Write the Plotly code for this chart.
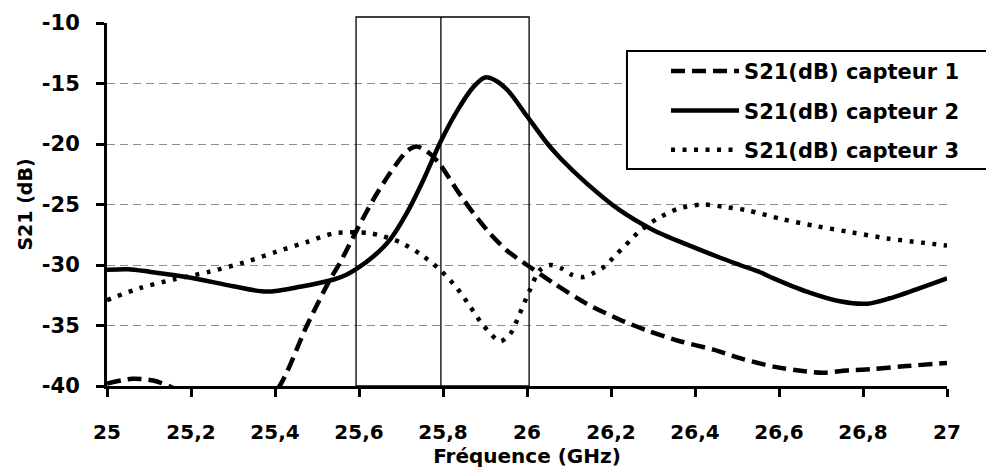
import plotly.graph_objects as go

# ---------------- data ----------------
freq_c1 = [25.0, 25.06, 25.11, 25.16, 25.22, 25.30, 25.36, 25.41, 25.476, 25.531, 25.555,
           25.595, 25.634, 25.674, 25.714, 25.737, 25.769, 25.793, 25.833, 25.872, 25.912,
           25.952, 26.0, 26.063, 26.142, 26.22, 26.285, 26.364, 26.444, 26.507, 26.587,
           26.666, 26.706, 26.769, 26.824, 26.904, 27.0]
s21_c1 = [-39.8, -39.4, -39.55, -40.2, -41.5, -42.5, -41.8, -40.05, -35.0, -31.2, -29.8,
          -27.1, -24.6, -22.4, -20.6, -20.2, -20.8, -21.7, -23.8, -25.7, -27.4,
          -28.8, -30.0, -31.5, -33.2, -34.5, -35.4, -36.3, -37.0, -37.7, -38.4,
          -38.8, -38.9, -38.7, -38.6, -38.35, -38.1]

freq_c2 = [25.0, 25.05, 25.10, 25.20, 25.30, 25.38, 25.46, 25.54, 25.57, 25.595, 25.634,
           25.674, 25.714, 25.753, 25.793, 25.833, 25.872, 25.90, 25.925, 25.955, 26.0, 26.047,
           26.08, 26.142, 26.22, 26.30, 26.38, 26.46, 26.507, 26.555, 26.587, 26.666,
           26.745, 26.81, 26.864, 26.944, 27.0]
s21_c2 = [-30.4, -30.35, -30.55, -31.05, -31.75, -32.2, -31.8, -31.2, -30.8, -30.3, -29.3,
          -27.9, -25.7, -23.0, -19.9, -17.3, -15.3, -14.5, -14.75, -15.6, -17.7, -19.9,
          -21.2, -23.25, -25.45, -27.1, -28.3, -29.4, -30.0, -30.6, -31.1, -32.2,
          -33.0, -33.2, -32.75, -31.8, -31.1]

freq_c3 = [25.0, 25.079, 25.158, 25.245, 25.325, 25.404, 25.476, 25.538, 25.59, 25.622,
           25.65, 25.70, 25.75, 25.793, 25.833, 25.864, 25.896, 25.936, 25.96, 25.983,
           26.005, 26.03, 26.055, 26.083, 26.106, 26.134, 26.162, 26.186, 26.205, 26.245,
           26.265, 26.309, 26.36, 26.416, 26.471, 26.527, 26.606, 26.69, 26.773, 26.856,
           26.94, 27.0]
s21_c3 = [-32.9, -31.9, -31.2, -30.55, -29.8, -28.9, -28.1, -27.4, -27.3, -27.35,
          -27.55, -28.15, -29.2, -30.4, -31.9, -33.4, -35.0, -36.3, -35.7, -34.0,
          -32.2, -30.45, -30.0, -30.3, -30.8, -31.0, -30.6, -30.1, -29.4, -28.0,
          -27.3, -26.2, -25.35, -25.0, -25.2, -25.5, -26.2, -26.8, -27.3, -27.8,
          -28.15, -28.4]

series_names = ["S21(dB) capteur 1", "S21(dB) capteur 2", "S21(dB) capteur 3"]

x_tickvals = [25.0, 25.2, 25.4, 25.6, 25.8, 26.0, 26.2, 26.4, 26.6, 26.8, 27.0]
x_ticktext = ["25", "25,2", "25,4", "25,6", "25,8", "26", "26,2", "26,4", "26,6", "26,8", "27"]
y_tickvals = [-40, -35, -30, -25, -20, -15, -10]
y_ticktext = ["-40", "-35", "-30", "-25", "-20", "-15", "-10"]

band_edges = [25.593, 25.795, 26.005]   # frequency band markers

# ---------------- figure ----------------
FONT = "DejaVu Sans"
fig = go.Figure()

fig.add_trace(go.Scatter(x=freq_c1, y=s21_c1, name=series_names[0], mode="lines",
                         legendgroup="a",
                         line=dict(color="black", width=4.5, dash="14px,7px",
                                   shape="spline", smoothing=0.8)))
fig.add_trace(go.Scatter(x=freq_c2, y=s21_c2, name=series_names[1], mode="lines",
                         legendgroup="b",
                         line=dict(color="black", width=4.5, shape="spline", smoothing=0.8)))
fig.add_trace(go.Scatter(x=freq_c3, y=s21_c3, name=series_names[2], mode="lines",
                         legendgroup="c",
                         line=dict(color="black", width=4.5, dash="4px,7.5px",
                                   shape="spline", smoothing=0.8)))

# band rectangle + middle line (extend a little above the plot top)
top = 1.0165
fig.add_shape(type="rect", xref="x", yref="paper", x0=band_edges[0], x1=band_edges[2],
              y0=0, y1=top, line=dict(color="black", width=1.3), layer="above")
fig.add_shape(type="line", xref="x", yref="paper", x0=band_edges[1], x1=band_edges[1],
              y0=0, y1=top, line=dict(color="black", width=1.3), layer="above")

# legend frame (white box, extends past the right edge)
fig.add_shape(type="rect", xref="paper", yref="paper", x0=0.619, x1=1.1,
              y0=0.598, y1=0.923, line=dict(color="black", width=2),
              fillcolor="white", layer="above")

fig.update_layout(
    width=994, height=474,
    margin=dict(l=99, r=55, t=15, b=96, autoexpand=False),
    paper_bgcolor="white", plot_bgcolor="white",
    font=dict(family=FONT, size=20, color="black", weight="bold"),
    showlegend=True,
    legend=dict(x=0.6655, y=0.923, xanchor="left", yanchor="top",
                bgcolor="rgba(0,0,0,0)", borderwidth=0,
                font=dict(family=FONT, size=21, color="black", weight="bold"),
                itemwidth=68, tracegroupgap=9),
)

fig.update_xaxes(
    range=[25, 27], tickmode="array", tickvals=x_tickvals, ticktext=x_ticktext,
    showline=True, linecolor="black", linewidth=3,
    ticks="outside", ticklen=8, tickwidth=3, tickcolor="black",
    ticklabelstandoff=18,
    tickfont=dict(family=FONT, size=20, weight="bold"),
    showgrid=False, zeroline=False,
    title=dict(text="Fréquence (GHz)", font=dict(family=FONT, size=20, weight="bold"),
               standoff=0),
)
fig.update_yaxes(
    range=[-40, -10], tickmode="array", tickvals=y_tickvals, ticktext=y_ticktext,
    showline=True, linecolor="black", linewidth=3,
    ticks="outside", ticklen=8, tickwidth=3, tickcolor="black",
    ticklabelstandoff=12,
    tickfont=dict(family=FONT, size=21, weight="bold"),
    showgrid=True, gridcolor="#8c8c8c", gridwidth=1.3, griddash="8px,5px",
    zeroline=False,
    title=dict(text="S21 (dB)", font=dict(family=FONT, size=19, weight="bold"),
               standoff=5),
)

fig.write_html("out.html")
